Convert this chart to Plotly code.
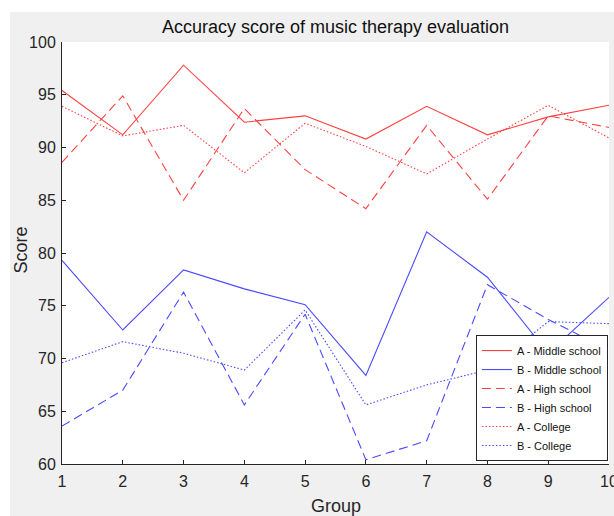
import plotly.graph_objects as go

groups = [1, 2, 3, 4, 5, 6, 7, 8, 9, 10]

a_middle = [95.4, 91.2, 97.8, 92.4, 93.0, 90.8, 93.9, 91.2, 92.9, 94.0]
b_middle = [79.3, 72.7, 78.4, 76.6, 75.1, 68.4, 82.0, 77.7, 70.5, 75.8]
a_high = [88.6, 94.9, 85.0, 93.7, 87.9, 84.2, 92.1, 85.1, 93.0, 91.9]
b_high = [63.6, 67.0, 76.3, 65.6, 74.2, 60.4, 62.2, 77.0, 73.7, 70.8]
a_college = [93.9, 91.1, 92.1, 87.6, 92.3, 90.1, 87.5, 90.8, 94.0, 90.9]
b_college = [69.6, 71.6, 70.5, 68.9, 74.6, 65.6, 67.5, 68.9, 73.5, 73.3]

series_names = ["A - Middle school", "B - Middle school", "A - High school",
                "B - High school", "A - College", "B - College"]
y_ticks = [60, 65, 70, 75, 80, 85, 90, 95, 100]

RED = "#ff4040"
BLUE = "#4a4aff"
DASH = "9px,5px"
DOT = "1.5px,2px"

series = [
    (series_names[0], a_middle, RED, "solid"),
    (series_names[1], b_middle, BLUE, "solid"),
    (series_names[2], a_high, RED, DASH),
    (series_names[3], b_high, BLUE, DASH),
    (series_names[4], a_college, RED, DOT),
    (series_names[5], b_college, BLUE, DOT),
]

FONT = "Liberation Sans, Arial, Helvetica, sans-serif"
AX = "#262626"

fig = go.Figure()
for name, vals, col, dash in series:
    fig.add_trace(go.Scatter(
        x=groups, y=vals, mode="lines", name=name,
        line=dict(color=col, width=1.1, dash=dash),
    ))

fig.update_layout(
    width=614, height=516,
    margin=dict(l=62, r=5, t=42, b=52, autoexpand=False),
    paper_bgcolor="#f0f0f0",
    plot_bgcolor="white",
    font=dict(family=FONT, color=AX),
    title=dict(
        text="Accuracy score of music therapy evaluation",
        x=0.5, xref="paper", xanchor="center",
        y=1 - 27 / 516, yref="container", yanchor="middle",
        font=dict(size=18, color="#111111", family=FONT),
    ),
    showlegend=True,
    legend=dict(
        x=0.998, xanchor="right", y=0.007, yanchor="bottom",
        bgcolor="white", bordercolor=AX, borderwidth=1,
        font=dict(size=11, color="#111111", family=FONT),
        tracegroupgap=0, itemwidth=30,
    ),
    xaxis=dict(
        range=[1, 10], tickmode="array", tickvals=groups,
        ticks="inside", ticklen=4, tickcolor=AX, tickwidth=1,
        showline=True, linecolor=AX, linewidth=1,
        showgrid=False, zeroline=False, ticklabeloverflow="allow",
        ticklabelstandoff=3, automargin=False,
        tickfont=dict(size=16, color=AX),
    ),
    yaxis=dict(
        range=[60, 100], tickmode="array", tickvals=y_ticks,
        ticks="inside", ticklen=4, tickcolor=AX, tickwidth=1,
        showline=True, linecolor=AX, linewidth=1,
        showgrid=False, zeroline=False, ticklabelstandoff=2, automargin=False,
        tickfont=dict(size=16, color=AX),
    ),
    annotations=[
        dict(text="Score", xref="paper", yref="paper", x=-0.074, y=0.507,
             xanchor="center", yanchor="middle", textangle=-90, showarrow=False,
             font=dict(size=18, color=AX, family=FONT)),
        dict(text="Group", xref="paper", yref="paper", x=0.5, y=-0.0995,
             xanchor="center", yanchor="middle", showarrow=False,
             font=dict(size=18, color=AX, family=FONT)),
    ],
    shapes=[
        dict(type="rect", xref="paper", yref="paper", x0=-0.2, x1=-0.0951,
             y0=-0.3, y1=1.2, fillcolor="white", line=dict(width=0), layer="below"),
        dict(type="rect", xref="paper", yref="paper", x0=-0.2, x1=1.2,
             y0=1.0711, y1=1.2, fillcolor="white", line=dict(width=0), layer="below"),
    ],
)

fig.write_html(
    "out.html",
    config={"displayModeBar": False},
    post_script="document.body.style.margin='0px';document.body.style.overflow='hidden';",
)
